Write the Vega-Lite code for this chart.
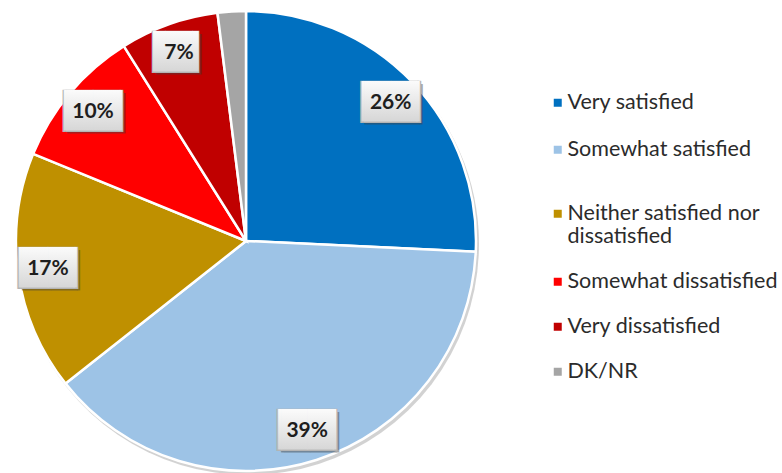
{
  "$schema": "https://vega.github.io/schema/vega-lite/v6.json",
  "width": 492,
  "height": 482,
  "autosize": {"type": "none"},
  "padding": {"left": 0, "top": 0, "right": 290, "bottom": 0},
  "background": "white",
  "config": {"view": {"stroke": null}},
  "data": {
    "values": [
      {"category": "Very satisfied", "value": 26, "ord": 1, "label": "26%"},
      {"category": "Somewhat satisfied", "value": 39, "ord": 2, "label": "39%"},
      {"category": "Neither satisfied nor dissatisfied", "value": 17, "ord": 3, "label": "17%"},
      {"category": "Somewhat dissatisfied", "value": 10, "ord": 4, "label": "10%"},
      {"category": "Very dissatisfied", "value": 7, "ord": 5, "label": "7%"},
      {"category": "DK/NR", "value": 2, "ord": 6, "label": ""}
    ]
  },
  "encoding": {
    "theta": {"field": "value", "type": "quantitative", "stack": true},
    "order": {"field": "ord", "type": "quantitative"}
  },
  "layer": [
    {
      "mark": {"type": "arc", "outerRadius": 231, "fill": "#7f7f7f", "opacity": 0.35, "xOffset": 2, "yOffset": 3},
      "encoding": {}
    },
    {
      "mark": {"type": "arc", "outerRadius": 230, "stroke": "white", "strokeWidth": 2.5},
      "encoding": {
        "color": {
          "field": "category",
          "type": "nominal",
          "scale": {
            "domain": ["Very satisfied", "Somewhat satisfied", "Neither satisfied nor dissatisfied", "Somewhat dissatisfied", "Very dissatisfied", "DK/NR"],
            "range": ["#0070C0", "#9DC3E6", "#BF9000", "#FF0000", "#C00000", "#A5A5A5"]
          },
          "legend": {
            "title": null,
            "values": ["Very satisfied", "Somewhat satisfied"],
            "orient": "none",
            "legendX": 547,
            "legendY": 92,
            "symbolType": "square",
            "symbolSize": 64,
            "symbolStrokeWidth": 0,
            "labelFont": "Lato",
            "labelFontSize": 21.5,
            "labelColor": "#2b2b2b",
            "labelLimit": 300,
            "labelOffset": -1,
            "rowPadding": 24
          }
        }
      }
    },
    {
      "mark": {"type": "arc", "outerRadius": 0, "innerRadius": 0},
      "encoding": {
        "fill": {
          "field": "category",
          "type": "nominal",
          "scale": {
            "domain": ["Neither satisfied nor dissatisfied", "Somewhat dissatisfied", "Very dissatisfied", "DK/NR"],
            "range": ["#BF9000", "#FF0000", "#C00000", "#A5A5A5"]
          },
          "legend": {
            "title": null,
            "orient": "none",
            "legendX": 547,
            "legendY": 203,
            "symbolType": "square",
            "symbolSize": 64,
            "symbolStrokeWidth": 0,
            "labelFont": "Lato",
            "labelFontSize": 21.5,
            "labelColor": "#2b2b2b",
            "labelLimit": 300,
            "labelOffset": -1,
            "labelLineHeight": 25,
            "rowPadding": 22,
            "labelExpr": "datum.label == 'Neither satisfied nor dissatisfied' ? ['Neither satisfied nor', 'dissatisfied'] : datum.label"
          }
        }
      }
    },
    {
      "mark": {"type": "text", "radius": 200, "font": "DejaVu Sans", "fontSize": 34, "dx": 3, "dy": 3, "fill": "#404040", "opacity": 0.45, "baseline": "middle", "align": "center"},
      "encoding": {
        "text": {"condition": [{"test": "datum.label == ''", "value": ""}, {"test": "datum.label == '7%'", "value": "▐█▎"}], "value": "▕██▏"}
      }
    },
    {
      "mark": {"type": "text", "radius": 200, "font": "DejaVu Sans", "fontSize": 35.5, "fill": "#b4b4b4", "baseline": "middle", "align": "center"},
      "encoding": {
        "text": {"condition": [{"test": "datum.label == ''", "value": ""}, {"test": "datum.label == '7%'", "value": "▐█▎"}], "value": "▕██▏"}
      }
    },
    {
      "mark": {
        "type": "text", "radius": 200, "font": "DejaVu Sans", "fontSize": 34, "baseline": "middle", "align": "center",
        "fill": {"gradient": "linear", "x1": 0, "y1": 0, "x2": 0, "y2": 1, "stops": [{"offset": 0, "color": "#fbfbfb"}, {"offset": 1, "color": "#d6d6d6"}]}
      },
      "encoding": {
        "text": {"condition": [{"test": "datum.label == ''", "value": ""}, {"test": "datum.label == '7%'", "value": "▐█▎"}], "value": "▕██▏"}
      }
    },
    {
      "mark": {"type": "text", "radius": 200, "font": "Lato", "fontWeight": "bold", "fontSize": 21, "fill": "#1e1e1e", "baseline": "middle", "align": "center"},
      "encoding": {
        "text": {"field": "label", "type": "nominal"}
      }
    }
  ]
}
